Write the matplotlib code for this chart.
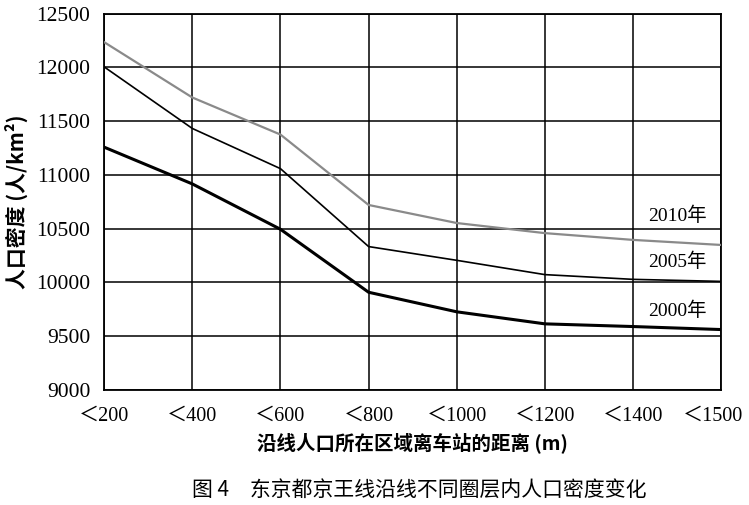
import matplotlib
matplotlib.use('Agg')
import matplotlib.pyplot as plt
import matplotlib.transforms as mtrans
import numpy as np

plt.rcParams['font.family'] = ['Liberation Serif', 'Noto Sans CJK SC', 'DejaVu Sans']

# distance bands (m) and density (persons/km2)
categories = ['＜200', '＜400', '＜600', '＜800', '＜1000', '＜1200', '＜1400', '＜1500']
density_2010 = [12235, 11720, 11375, 10720, 10552, 10458, 10395, 10348]
density_2005 = [12005, 11432, 11058, 10333, 10205, 10072, 10028, 10009]
density_2000 = [11258, 10916, 10494, 9908, 9726, 9614, 9589, 9561]
series_labels = ['2010年', '2005年', '2000年']
label_y = [10620, 10190, 9740]

fig = plt.figure(figsize=(7.49, 5.05), dpi=100)
ax = fig.add_axes([0.139, 0.228, 0.824, 0.745])

x = np.arange(len(categories))
ax.plot(x, density_2010, color='#8a8a8a', lw=1.6, zorder=3)
ax.plot(x, density_2005, color='black', lw=1.2, zorder=3)
ax.plot(x, density_2000, color='black', lw=2.2, zorder=3)

for lab, yy in zip(series_labels, label_y):
    ax.text(6.5, yy, lab, fontsize=14, ha='center', va='center', zorder=4,
            bbox=dict(facecolor='white', edgecolor='none', pad=0.5))

ax.set_xlim(0, len(categories) - 1)
ax.set_ylim(9000, 12500)
ax.set_yticks(np.arange(9000, 12501, 500))
ax.set_xticks(x)
ax.set_xticklabels(categories, fontsize=14.5)
ax.tick_params(axis='y', labelsize=15.5, length=0, pad=10)
ax.tick_params(axis='x', length=0, pad=12)
ax.grid(True, color='black', lw=1.1)
for s in ax.spines.values():
    s.set_linewidth(1.3)

# nudge the last category label so it stays inside the figure
last = ax.get_xticklabels()[-1]
last.set_transform(last.get_transform() + mtrans.ScaledTranslation(-6 / 72, 0, fig.dpi_scale_trans))

ax.set_ylabel('人口密度 (人/km²)', fontsize=15, fontweight='bold', labelpad=6,
              family=['Noto Sans CJK SC', 'DejaVu Sans'])
ax.set_xlabel('沿线人口所在区域离车站的距离 (m)', fontsize=14, fontweight='bold', labelpad=5,
              family=['Noto Sans CJK SC', 'DejaVu Sans'])

fig.text(0.56, 0.03, '图 4　东京都京王线沿线不同圈层内人口密度变化', fontsize=15,
         ha='center', va='center', family=['Noto Sans CJK SC', 'DejaVu Sans'])

fig.savefig('out.png', dpi=100)
